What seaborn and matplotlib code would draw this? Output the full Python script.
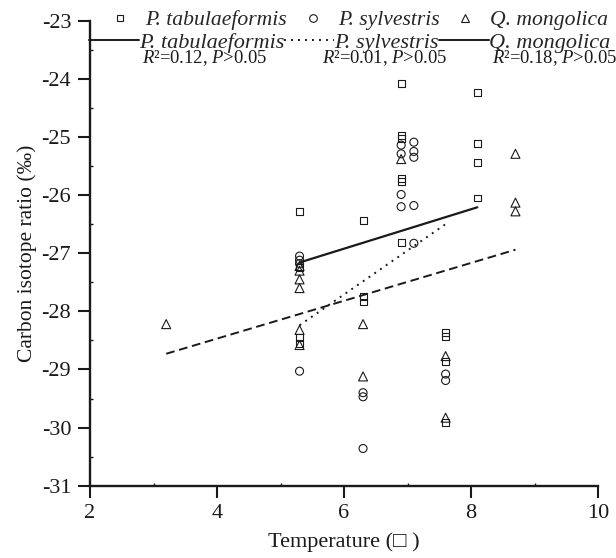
import numpy as np
import pandas as pd
import matplotlib
matplotlib.use('Agg')
import matplotlib.pyplot as plt
import seaborn as sns
from matplotlib.lines import Line2D
from matplotlib.font_manager import FontProperties
from matplotlib.ticker import MultipleLocator

# ---------------- data ----------------
species = ["P. tabulaeformis", "P. sylvestris", "Q. mongolica"]

tab_x = [5.3, 5.3, 5.3, 5.3, 6.3, 6.3, 6.3, 6.9, 6.9, 6.9, 6.9, 6.9, 6.9,
         7.6, 7.6, 7.6, 7.6, 8.1, 8.1, 8.1, 8.1]
tab_y = [-26.28, -27.25, -28.45, -28.55, -26.43, -27.75, -27.84, -24.08, -24.97, -25.03,
         -25.71, -25.76, -26.82, -28.36, -28.43, -28.86, -29.91, -24.23, -25.11, -25.44, -26.05]

syl_x = [5.3, 5.3, 5.3, 5.3, 6.3, 6.3, 6.3, 6.9, 6.9, 6.9, 6.9,
         7.1, 7.1, 7.1, 7.1, 7.1, 7.6, 7.6]
syl_y = [-27.05, -27.12, -27.18, -29.03, -29.40, -29.47, -30.36, -25.14, -25.29, -25.99, -26.20,
         -25.09, -25.25, -25.35, -26.18, -26.83, -29.08, -29.19]

mon_x = [3.2, 5.3, 5.3, 5.3, 5.3, 5.3, 5.3, 6.3, 6.3, 6.9, 7.6, 7.6, 8.7, 8.7, 8.7]
mon_y = [-28.22, -27.22, -27.30, -27.45, -27.60, -28.32, -28.58, -28.22, -29.12, -25.38,
         -28.77, -29.83, -25.29, -26.13, -26.28]

# fitted regression lines (end points)
tab_fit_x = [5.3, 8.1]
tab_fit_y = [-27.16, -26.21]
syl_fit_x = [5.3, 7.6]
syl_fit_y = [-28.24, -26.50]
mon_fit_x = [3.2, 8.7]
mon_fit_y = [-28.73, -26.94]

stats_labels = ["$R$\u00b2=0.12, $P$>0.05", "$R$\u00b2=0.01, $P$>0.05", "$R$\u00b2=0.18, $P$>0.05"]

x_ticks = [2, 4, 6, 8, 10]
y_ticks = [-31, -30, -29, -28, -27, -26, -25, -24, -23]

# ---------------- style ----------------
sns.set_theme(style="ticks")
plt.rcParams['font.family'] = ['Liberation Serif', 'DejaVu Serif', 'DejaVu Sans']
plt.rcParams['mathtext.fontset'] = 'custom'
plt.rcParams['mathtext.rm'] = 'Liberation Serif'
plt.rcParams['mathtext.it'] = 'Liberation Serif:italic'
plt.rcParams['font.size'] = 15

W, H = 616, 558
fig = plt.figure(figsize=(W / 100, H / 100), dpi=100)
ax = fig.add_axes([90 / W, 1 - 485.7 / H, 508 / W, 465 / H])

ec = '#1a1a1a'
for xs, ys, mk, s in [(tab_x, tab_y, 's', 25), (syl_x, syl_y, 'o', 33), (mon_x, mon_y, '^', 42)]:
    sns.scatterplot(x=xs, y=ys, marker=mk, s=s, ax=ax, color='k', legend=False, zorder=3)
    coll = ax.collections[-1]
    coll.set_facecolor('none')
    coll.set_edgecolor(ec)
    coll.set_linewidth(0.8)

sns.lineplot(x=tab_fit_x, y=tab_fit_y, ax=ax, color='k', linewidth=1.6,
             linestyle='-', sort=False, estimator=None)
sns.lineplot(x=syl_fit_x, y=syl_fit_y, ax=ax, color='k', linewidth=1.4,
             linestyle=(0, (1, 2.6)), sort=False, estimator=None)
sns.lineplot(x=mon_fit_x, y=mon_fit_y, ax=ax, color='k', linewidth=1.4,
             linestyle=(0, (4.5, 2.4)), sort=False, estimator=None)

ax.set_xlim(2, 10)
ax.set_ylim(-31, -23)
ax.set_xticks(x_ticks)
ax.set_yticks(y_ticks)
ax.set_xticklabels([str(t) for t in x_ticks])
ax.set_yticklabels([str(t) for t in y_ticks])
ax.xaxis.set_minor_locator(MultipleLocator(1))
ax.yaxis.set_minor_locator(MultipleLocator(0.5))
sns.despine(ax=ax)
for sp in ('left', 'bottom'):
    ax.spines[sp].set_linewidth(1.7)
    ax.spines[sp].set_color('k')
ax.tick_params(which='major', direction='out', length=8.5, width=1.5, labelsize=16,
               colors='k', pad=5)
ax.tick_params(which='minor', direction='in', length=2.5, width=1.0, colors='k')

ax.set_xlabel('Temperature (\u25a1 )', fontsize=16, labelpad=6, color='k')
ax.set_ylabel('Carbon isotope ratio (\u2030)', fontsize=15.5, labelpad=3, color='k')

# ---------------- legends ----------------
ital1 = FontProperties(family='Liberation Serif', style='italic', size=15.6)
h1 = [Line2D([], [], ls='none', marker='s', ms=5, mfc='none', mec=ec, mew=0.8),
      Line2D([], [], ls='none', marker='o', ms=5.5, mfc='none', mec=ec, mew=0.8),
      Line2D([], [], ls='none', marker='^', ms=6, mfc='none', mec=ec, mew=0.8)]
leg1 = fig.legend(h1, species, loc='center left', bbox_to_anchor=(109 / W, 1 - 20 / H),
                  ncol=3, frameon=False, borderpad=0, borderaxespad=0, handlelength=1.0,
                  handletextpad=0.66, columnspacing=0.7, prop=ital1)

ital2 = FontProperties(family='Liberation Serif', style='italic', size=16.0)
h2 = [Line2D([], [], color='k', lw=1.4, ls='-'),
      Line2D([], [], color='k', lw=1.4, ls=(0, (1, 2.6))),
      Line2D([], [], color='k', lw=1.4, ls='-')]
leg2 = fig.legend(h2, species, loc='center left', bbox_to_anchor=(89 / W, 1 - 42.7 / H),
                  ncol=3, frameon=False, borderpad=0, borderaxespad=0, handlelength=2.25,
                  handletextpad=0.0, columnspacing=0.0, prop=ital2)

for xp, lab in zip([141.7, 321.7, 491.7], stats_labels):
    fig.text(xp / W, 1 - 58 / H, lab, fontsize=13.4, va='center', ha='left', color='k')

fig.savefig('out.png', dpi=100)
